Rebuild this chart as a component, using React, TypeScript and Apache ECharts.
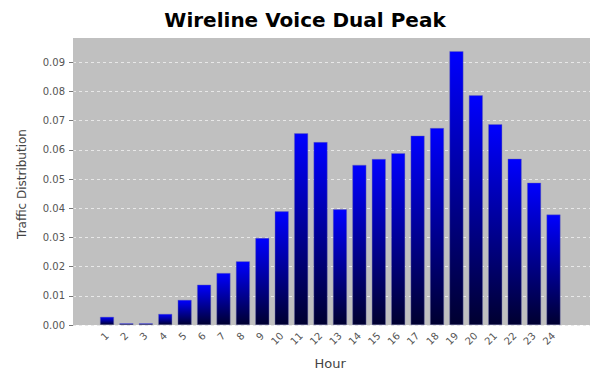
import React, { useEffect, useRef } from "react";
import * as echarts from "echarts";

const hours = ["1","2","3","4","5","6","7","8","9","10","11","12","13","14","15","16","17","18","19","20","21","22","23","24"];
const traffic = [0.0028,0.0006,0.0006,0.0038,0.0086,0.0138,0.0178,0.0218,0.0298,0.0389,0.0656,0.0626,0.0396,0.0548,0.0568,0.0588,0.0648,0.0674,0.0937,0.0786,0.0687,0.0569,0.0487,0.0378];
const yTicksMax = 0.09;
const plotMax = 0.0982;

export default function App() {
  const ref = useRef<HTMLDivElement>(null);
  useEffect(() => {
    if (!ref.current) return;
    const chart = echarts.init(ref.current, null, { renderer: "svg" });
    const font = "DejaVu Sans, Verdana, sans-serif";
    chart.setOption({
      animation: false,
      backgroundColor: "#ffffff",
      title: {
        text: "Wireline Voice Dual Peak",
        left: 300,
        textAlign: "center",
        top: 5,
        textStyle: { fontFamily: font, fontSize: 20, fontWeight: "bold", color: "#000" },
      },
      graphic: [
        {
          type: "text",
          x: 22,
          y: 184,
          rotation: Math.PI / 2,
          style: {
            text: "Traffic Distribution",
            fontFamily: font,
            fontSize: 12,
            fill: "#444",
            textAlign: "center",
            textVerticalAlign: "middle",
          },
        },
      ],
      grid: [
        { left: 73, right: 0, top: 38, bottom: 48, show: true, backgroundColor: "#c0c0c0", borderWidth: 0, z: -5, outerBoundsMode: "none", containLabel: false },
        { left: 73, right: 0, top: 62.3, bottom: 48, show: false, outerBoundsMode: "none", containLabel: false },
        { left: 97.3, right: 26.8, top: 38, bottom: 48, show: false, outerBoundsMode: "none", containLabel: false },
      ],
      xAxis: [
        { gridIndex: 0, type: "value", show: false, min: 0, max: 1 },
        { gridIndex: 1, type: "value", show: false, min: 0, max: 1 },
        {
          gridIndex: 2,
          type: "category",
          data: hours,
          boundaryGap: true,
          name: "Hour",
          nameLocation: "middle",
          nameGap: 32,
          nameTextStyle: { fontFamily: font, fontSize: 13, color: "#444" },
          axisLine: { show: false },
          axisTick: { show: false },
          axisLabel: { rotate: 45, fontFamily: font, fontSize: 10, color: "#555", margin: 9, interval: 0 },
        },
      ],
      yAxis: [
        { gridIndex: 0, type: "value", show: false, min: 0, max: plotMax },
        {
          gridIndex: 1,
          type: "value",
          min: 0,
          max: yTicksMax,
          interval: 0.01,
          axisLine: { show: true, lineStyle: { color: "#c0c0c0" } },
          axisTick: { show: true, length: 4, lineStyle: { color: "#777" } },
          axisLabel: {
            fontFamily: font,
            fontSize: 10,
            color: "#555",
            margin: 8,
            formatter: (v: number) => v.toFixed(2),
          },
          splitLine: { show: true, lineStyle: { color: "#e8e8e8", type: [3, 3], width: 1 } },
        },
        { gridIndex: 2, type: "value", show: false, min: 0, max: plotMax },
      ],
      series: [
        {
          type: "bar",
          xAxisIndex: 2,
          yAxisIndex: 2,
          data: traffic,
          barWidth: 14,
          itemStyle: {
            color: new echarts.graphic.LinearGradient(0, 0, 0, 1, [
              { offset: 0, color: "#0000ff" },
              { offset: 1, color: "#000030" },
            ]),
            borderColor: "rgba(110,110,170,0.7)",
            borderWidth: 0.6,
          },
        },
      ],
    });
    return () => chart.dispose();
  }, []);
  return <div ref={ref} style={{ width: 590, height: 373, position: "absolute", left: 0, top: 0 }} />;
}
